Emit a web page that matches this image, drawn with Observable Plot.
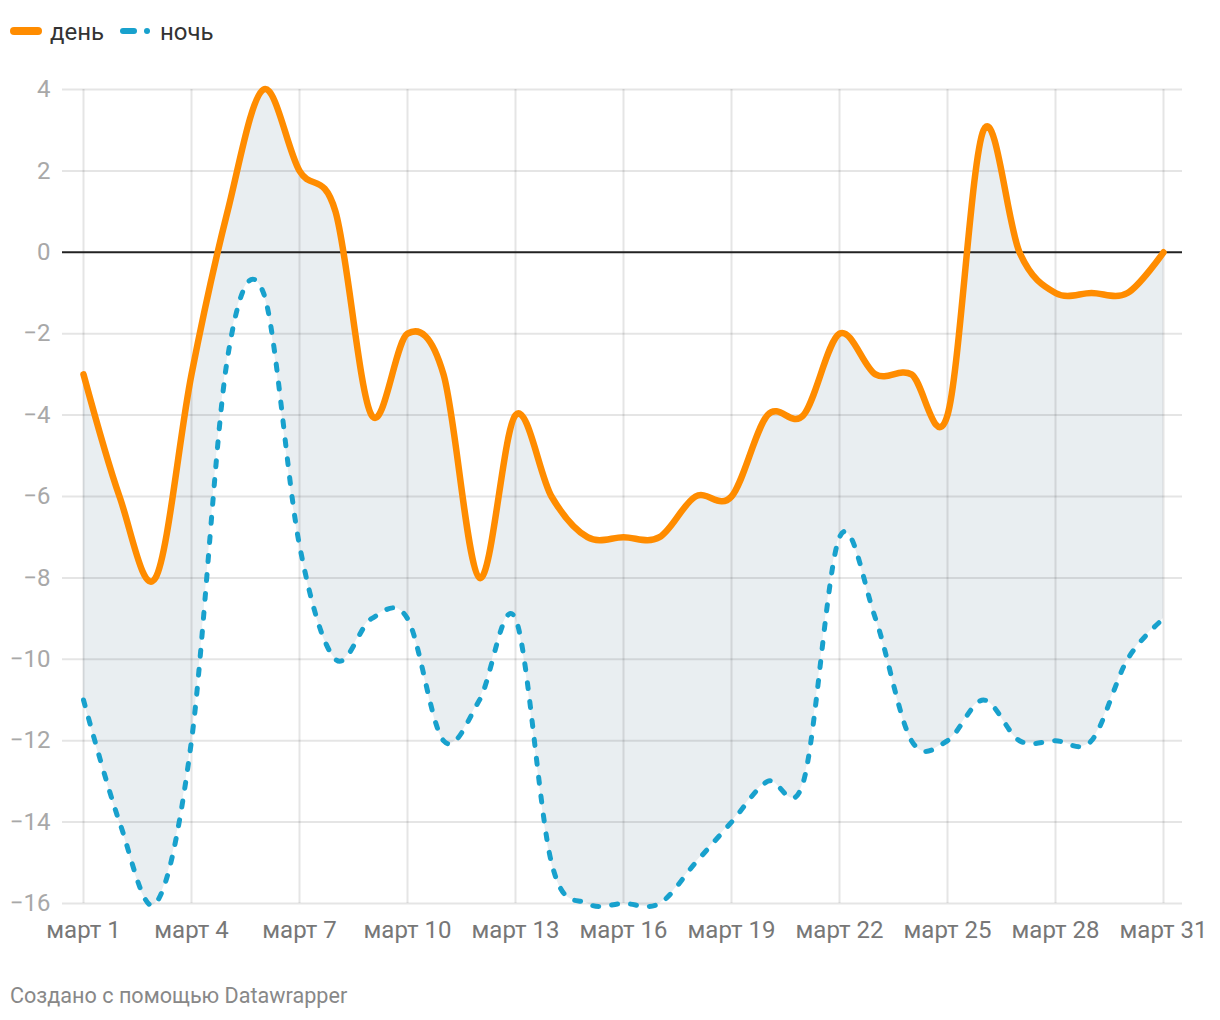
<!DOCTYPE html>
<html>
<head>
<meta charset="utf-8">
<script src="https://cdn.jsdelivr.net/npm/d3@7"></script>
<script src="https://cdn.jsdelivr.net/npm/@observablehq/plot@0.6"></script>
<style>
  html, body { margin: 0; padding: 0; background: #fff; }
  #wrap { position: relative; width: 1220px; height: 1020px; font-family: Roboto, "Noto Sans", sans-serif; }
  #chart { position: absolute; left: 0; top: 0; }
  .swatch { position: absolute; top: 21px; }
  .ltext { position: absolute; top: 18px; height: 28px; line-height: 28px; font-size: 24px; font-weight: 400; color: #333; }
  #footer { position: absolute; left: 10px; top: 983px; font-size: 21.6px; line-height: 26px; color: #888; }
</style>
</head>
<body>
<div id="wrap">
  <div id="chart"></div>
  <svg class="swatch" style="left:0" width="160" height="20">
    <line x1="14" y1="10" x2="38" y2="10" stroke="#ff8c00" stroke-width="8" stroke-linecap="round"/>
    <line x1="123" y1="10" x2="134" y2="10" stroke="#18a1cd" stroke-width="6" stroke-linecap="round"/>
    <line x1="147" y1="10" x2="147" y2="10" stroke="#18a1cd" stroke-width="6" stroke-linecap="round"/>
  </svg>
  <div class="ltext" id="l1" style="left:50px"></div>
  <div class="ltext" id="l2" style="left:160px"></div>
  <div id="footer">Создано с помощью Datawrapper</div>
</div>
<script>
const days = [1,2,3,4,5,6,7,8,9,10,11,12,13,14,15,16,17,18,19,20,21,22,23,24,25,26,27,28,29,30,31];
const dayTemp = [-3,-6,-8,-3,1,4,2,1,-4,-2,-3,-8,-4,-6,-7,-7,-7,-6,-6,-4,-4,-2,-3,-3,-4,3,0,-1,-1,-1,0];
const nightTemp = [-11,-14,-16,-12,-2.6,-1,-7.2,-10,-9,-9,-12,-11,-9,-15,-16,-16,-16,-15,-14,-13,-13,-7,-9,-12,-12,-11,-12,-12,-12,-10,-9];
const seriesNames = ["день", "ночь"];
const xTicks = [1,4,7,10,13,16,19,22,25,28,31];
const yTicks = [-16,-14,-12,-10,-8,-6,-4,-2,0,2,4];
const monthLabel = "март";

document.getElementById("l1").textContent = seriesNames[0];
document.getElementById("l2").textContent = seriesNames[1];

const rows = days.map((d, i) => ({day: d, hi: dayTemp[i], lo: nightTemp[i]}));
const curve = "cardinal";

const chart = Plot.plot({
  width: 1220,
  height: 960,
  marginTop: 89,
  marginBottom: 57,
  marginLeft: 62,
  marginRight: 38,
  x: {domain: [1, 31], insetLeft: 21, insetRight: 19},
  y: {domain: [-16, 4]},
  style: {fontFamily: "Roboto, 'Noto Sans', sans-serif", fontSize: "24px", background: "transparent"},
  marks: [
    Plot.areaY(rows, {x: "day", y1: "lo", y2: "hi", fill: "#e9eef1", curve}),
    Plot.ruleY(yTicks.filter(v => v !== 0), {stroke: "#000", strokeOpacity: 0.1, strokeWidth: 2}),
    Plot.ruleX(xTicks, {y1: -16, y2: 4, stroke: "#000", strokeOpacity: 0.1, strokeWidth: 2}),
    Plot.ruleY([0], {stroke: "#222", strokeWidth: 2}),
    Plot.line(rows, {x: "day", y: "lo", stroke: "#18a1cd", strokeWidth: 5, strokeDasharray: "6 13", strokeLinecap: "round", curve}),
    Plot.line(rows, {x: "day", y: "hi", stroke: "#ff8c00", strokeWidth: 6.5, strokeLinecap: "round", curve}),
    Plot.axisX({ticks: xTicks, tickSize: 0, tickPadding: 17, label: null, tickFormat: d => monthLabel + " " + d, fill: "#777", fontSize: 24}),
    Plot.axisY({ticks: yTicks, tickSize: 0, tickPadding: 12, label: null, fill: "#a8a8a8", fontSize: 24})
  ]
});
document.getElementById("chart").appendChild(chart);
</script>
</body>
</html>
